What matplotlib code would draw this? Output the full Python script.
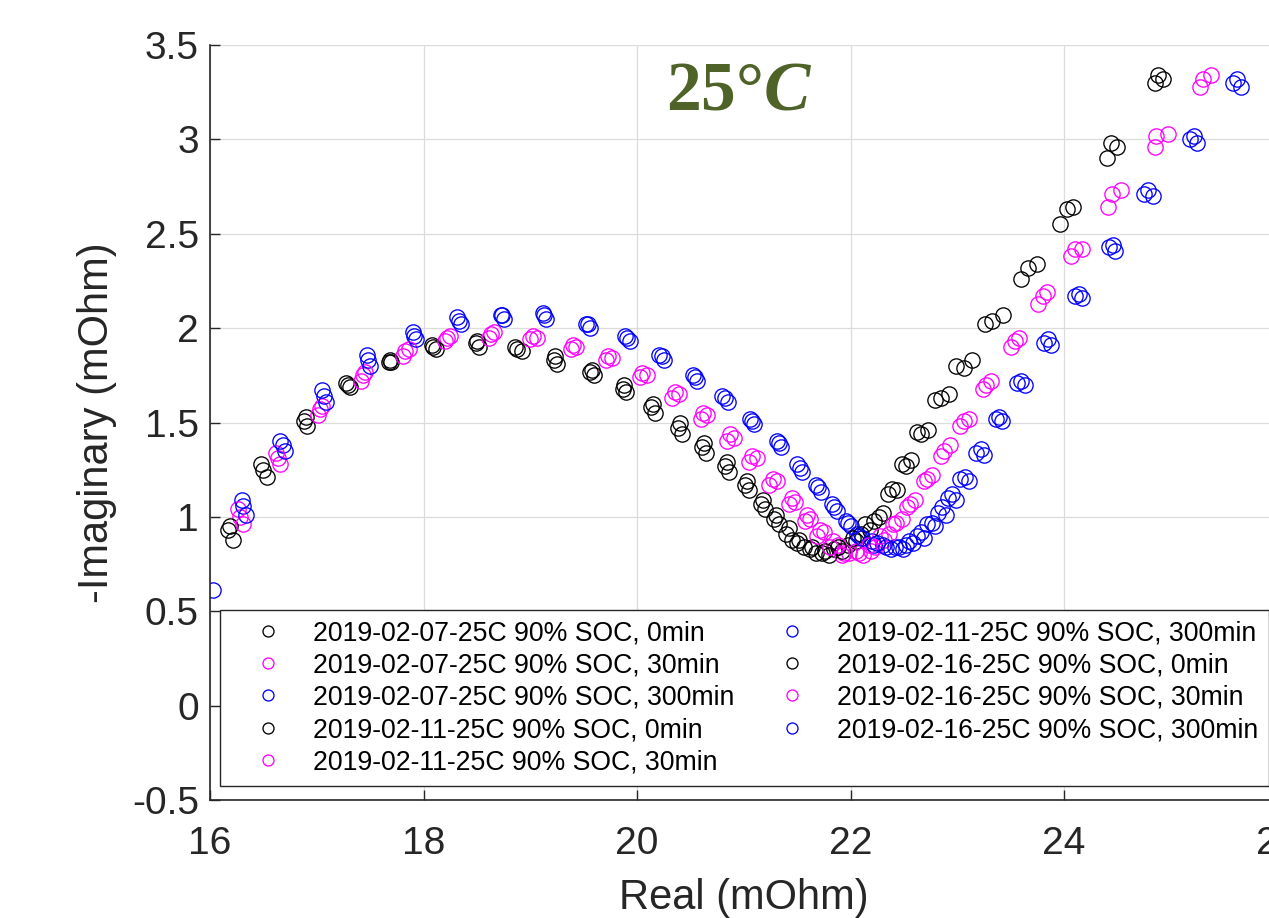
from __future__ import annotations

import matplotlib

matplotlib.use("Agg")
import matplotlib.pyplot as plt


OUTPUT_PATH = "out.png"

# real / -imaginary parts (mOhm)
RE_0207_0 = [16.17, 16.50, 16.88, 17.29, 17.68, 18.09, 18.49, 18.88, 19.22, 19.56, 19.87, 20.13,
             20.38, 20.61, 20.82, 21.01, 21.16, 21.28, 21.40, 21.50, 21.62, 21.73, 21.85, 21.98,
             22.10, 22.22, 22.35, 22.48, 22.62, 22.79, 22.99, 23.26, 23.60, 23.96, 24.40, 24.85]
IM_0207_0 = [0.93, 1.25, 1.51, 1.70, 1.82, 1.90, 1.92, 1.89, 1.83, 1.77, 1.68, 1.58,
             1.47, 1.37, 1.27, 1.17, 1.07, 0.99, 0.91, 0.86, 0.83, 0.81, 0.83, 0.85,
             0.91, 0.98, 1.12, 1.28, 1.45, 1.62, 1.80, 2.02, 2.26, 2.55, 2.90, 3.30]

RE_0207_30 = [16.28, 16.64, 17.03, 17.43, 17.83, 18.22, 18.63, 19.03, 19.40, 19.73, 20.05, 20.36,
              20.62, 20.87, 21.08, 21.27, 21.45, 21.59, 21.71, 21.84, 21.94, 22.08, 22.19, 22.31,
              22.43, 22.56, 22.72, 22.88, 23.06, 23.27, 23.54, 23.80, 24.10, 24.45, 24.86, 25.30]
IM_0207_30 = [1.00, 1.31, 1.57, 1.75, 1.88, 1.95, 1.97, 1.96, 1.91, 1.85, 1.76, 1.66,
              1.55, 1.44, 1.32, 1.20, 1.10, 1.01, 0.93, 0.87, 0.81, 0.81, 0.82, 0.88,
              0.97, 1.07, 1.20, 1.35, 1.51, 1.70, 1.93, 2.17, 2.42, 2.71, 3.02, 3.32]

RE_0207_300 = [16.03, 16.31, 16.68, 17.07, 17.48, 17.91, 18.33, 18.74, 19.13, 19.54, 19.91, 20.23,
               20.54, 20.82, 21.08, 21.33, 21.53, 21.70, 21.85, 21.98, 22.06, 22.20, 22.30, 22.42,
               22.52, 22.62, 22.72, 22.82, 22.91, 23.03, 23.18, 23.36, 23.56, 23.81, 24.10, 24.42,
               24.75, 25.18, 25.58]
IM_0207_300 = [0.61, 1.06, 1.38, 1.64, 1.83, 1.96, 2.04, 2.07, 2.07, 2.02, 1.95, 1.85,
               1.74, 1.63, 1.51, 1.39, 1.26, 1.16, 1.05, 0.97, 0.91, 0.87, 0.85, 0.84,
               0.85, 0.90, 0.96, 1.02, 1.10, 1.20, 1.34, 1.52, 1.71, 1.92, 2.17, 2.43,
               2.71, 3.00, 3.30]

RE_0211_0 = [16.22, 16.53, 16.91, 17.31, 17.70, 18.12, 18.52, 18.92, 19.25, 19.60, 19.90, 20.17,
             20.42, 20.65, 20.86, 21.05, 21.20, 21.33, 21.45, 21.56, 21.68, 21.80, 21.92, 22.05,
             22.18, 22.30, 22.44, 22.57, 22.73, 22.92, 23.14, 23.43, 23.75, 24.08, 24.50, 24.93]
IM_0211_0 = [0.88, 1.21, 1.48, 1.69, 1.82, 1.89, 1.90, 1.88, 1.81, 1.75, 1.66, 1.55,
             1.44, 1.34, 1.24, 1.14, 1.04, 0.96, 0.88, 0.84, 0.81, 0.80, 0.82, 0.87,
             0.93, 1.02, 1.14, 1.30, 1.46, 1.65, 1.83, 2.07, 2.34, 2.64, 2.96, 3.32]

RE_0211_30 = [16.26, 16.62, 17.05, 17.45, 17.86, 18.25, 18.66, 19.06, 19.43, 19.77, 20.09, 20.39,
              20.66, 20.91, 21.12, 21.31, 21.48, 21.62, 21.75, 21.88, 21.99, 22.12, 22.23, 22.36,
              22.48, 22.60, 22.76, 22.93, 23.11, 23.32, 23.58, 23.84, 24.17, 24.53, 24.97, 25.38]
IM_0211_30 = [1.04, 1.34, 1.59, 1.77, 1.89, 1.96, 1.98, 1.95, 1.90, 1.84, 1.75, 1.65,
              1.54, 1.42, 1.31, 1.19, 1.08, 0.99, 0.92, 0.85, 0.81, 0.80, 0.84, 0.91,
              0.99, 1.09, 1.22, 1.38, 1.52, 1.72, 1.95, 2.19, 2.42, 2.73, 3.03, 3.34]

RE_0211_300 = [16.30, 16.66, 17.05, 17.47, 17.90, 18.31, 18.73, 19.12, 19.52, 19.89, 20.21, 20.52,
               20.80, 21.06, 21.31, 21.50, 21.68, 21.83, 21.96, 22.08, 22.22, 22.33, 22.45, 22.55,
               22.66, 22.76, 22.86, 22.95, 23.07, 23.22, 23.39, 23.60, 23.85, 24.14, 24.46, 24.79,
               25.22, 25.62]
IM_0211_300 = [1.09, 1.40, 1.67, 1.86, 1.98, 2.06, 2.07, 2.08, 2.02, 1.96, 1.86, 1.75,
               1.64, 1.52, 1.40, 1.28, 1.17, 1.07, 0.98, 0.90, 0.85, 0.84, 0.84, 0.87,
               0.92, 0.97, 1.05, 1.12, 1.21, 1.36, 1.53, 1.72, 1.94, 2.18, 2.44, 2.73,
               3.02, 3.32]

RE_0216_0 = [16.19, 16.48, 16.90, 17.27, 17.69, 18.08, 18.50, 18.86, 19.23, 19.58, 19.88, 20.15,
             20.40, 20.63, 20.84, 21.03, 21.18, 21.30, 21.42, 21.52, 21.64, 21.76, 21.88, 22.02,
             22.14, 22.27, 22.39, 22.52, 22.66, 22.85, 23.06, 23.33, 23.66, 24.03, 24.44, 24.88]
IM_0216_0 = [0.95, 1.28, 1.53, 1.71, 1.83, 1.91, 1.93, 1.90, 1.85, 1.78, 1.70, 1.60,
             1.50, 1.39, 1.29, 1.19, 1.09, 1.01, 0.94, 0.88, 0.84, 0.82, 0.84, 0.89,
             0.96, 1.00, 1.15, 1.27, 1.44, 1.63, 1.79, 2.04, 2.32, 2.63, 2.98, 3.34]

RE_0216_30 = [16.31, 16.66, 17.01, 17.41, 17.81, 18.20, 18.61, 19.00, 19.38, 19.71, 20.03, 20.33,
              20.60, 20.84, 21.05, 21.24, 21.42, 21.57, 21.69, 21.81, 21.92, 22.05, 22.17, 22.28,
              22.40, 22.53, 22.69, 22.85, 23.03, 23.24, 23.50, 23.76, 24.07, 24.41, 24.85, 25.27]
IM_0216_30 = [0.96, 1.28, 1.54, 1.72, 1.85, 1.93, 1.95, 1.94, 1.89, 1.83, 1.74, 1.63,
              1.52, 1.40, 1.29, 1.17, 1.07, 0.98, 0.90, 0.84, 0.80, 0.82, 0.85, 0.90,
              0.96, 1.05, 1.19, 1.32, 1.48, 1.68, 1.90, 2.13, 2.38, 2.64, 2.96, 3.28]

RE_0216_300 = [16.34, 16.70, 17.09, 17.50, 17.93, 18.35, 18.75, 19.15, 19.56, 19.93, 20.25, 20.56,
               20.85, 21.10, 21.35, 21.55, 21.72, 21.87, 22.00, 22.11, 22.25, 22.38, 22.49, 22.59,
               22.69, 22.79, 22.89, 22.99, 23.11, 23.25, 23.42, 23.63, 23.88, 24.17, 24.48, 24.83,
               25.25, 25.66]
IM_0216_300 = [1.01, 1.35, 1.61, 1.80, 1.94, 2.02, 2.05, 2.05, 2.00, 1.93, 1.83, 1.72,
               1.61, 1.49, 1.37, 1.24, 1.13, 1.03, 0.95, 0.89, 0.86, 0.83, 0.83, 0.86,
               0.89, 0.95, 1.01, 1.09, 1.19, 1.33, 1.51, 1.70, 1.91, 2.16, 2.41, 2.70,
               2.98, 3.28]

SERIES = [
    ("2019-02-07-25C 90% SOC, 0min", RE_0207_0, IM_0207_0, "black"),
    ("2019-02-07-25C 90% SOC, 30min", RE_0207_30, IM_0207_30, "#ff00ff"),
    ("2019-02-07-25C 90% SOC, 300min", RE_0207_300, IM_0207_300, "#0000ff"),
    ("2019-02-11-25C 90% SOC, 0min", RE_0211_0, IM_0211_0, "black"),
    ("2019-02-11-25C 90% SOC, 30min", RE_0211_30, IM_0211_30, "#ff00ff"),
    ("2019-02-11-25C 90% SOC, 300min", RE_0211_300, IM_0211_300, "#0000ff"),
    ("2019-02-16-25C 90% SOC, 0min", RE_0216_0, IM_0216_0, "black"),
    ("2019-02-16-25C 90% SOC, 30min", RE_0216_30, IM_0216_30, "#ff00ff"),
    ("2019-02-16-25C 90% SOC, 300min", RE_0216_300, IM_0216_300, "#0000ff"),
]

X_TICKS = [16, 18, 20, 22, 24, 26]
Y_TICKS = [-0.5, 0, 0.5, 1, 1.5, 2, 2.5, 3, 3.5]
Y_TICK_LABELS = ["-0.5", "0", "0.5", "1", "1.5", "2", "2.5", "3", "3.5"]

AXIS_COLOR = "#262626"


def main() -> None:
    plt.rcParams["font.family"] = ["Liberation Sans", "DejaVu Sans"]
    plt.rcParams["mathtext.fontset"] = "custom"
    plt.rcParams["mathtext.rm"] = "Liberation Serif:bold"
    plt.rcParams["mathtext.it"] = "Liberation Serif:bold:italic"

    fig = plt.figure(figsize=(12.69, 9.18), dpi=100)
    ax = fig.add_axes([210 / 1269, 1 - 800 / 918, 1067.5 / 1269, 755 / 918])

    for label, re, im, color in SERIES:
        ax.plot(re, im, linestyle="none", marker="o", markersize=11,
                markerfacecolor="none", markeredgecolor=color,
                markeredgewidth=0.95, label=label)

    ax.set_xlim(16, 26)
    ax.set_ylim(-0.5, 3.5)
    ax.set_xticks(X_TICKS)
    ax.set_yticks(Y_TICKS)
    ax.set_yticklabels(Y_TICK_LABELS)
    ax.tick_params(direction="in", length=7, width=1, colors=AXIS_COLOR,
                   labelsize=28)
    ax.tick_params(axis="y", pad=8)
    ax.tick_params(axis="x", pad=19)
    ax.grid(True, color="#dcdcdc", linewidth=0.9)
    ax.set_axisbelow(True)
    for side in ["top", "right"]:
        ax.spines[side].set_visible(False)
    for side in ["left", "bottom"]:
        ax.spines[side].set_color(AXIS_COLOR)
        ax.spines[side].set_linewidth(1.2)

    ax.set_xlabel("Real (mOhm)", fontsize=30, color=AXIS_COLOR, labelpad=11)
    ax.set_ylabel("-Imaginary (mOhm)", fontsize=30, color=AXIS_COLOR, labelpad=11)

    ax.text(0.4955, 0.939, r"$\mathrm{25°}C$", transform=ax.transAxes,
            ha="center", va="center", fontsize=50, color="#4F6228")

    legend = ax.legend(ncol=2, loc="lower left", bbox_to_anchor=(0.0094, 0.0185),
                       fontsize=19.2, markerscale=0.72, handlelength=2.8,
                       handletextpad=0.3, columnspacing=0.74, labelspacing=0.235,
                       borderpad=0.4, borderaxespad=0, fancybox=False,
                       framealpha=1, edgecolor=AXIS_COLOR)
    legend.get_frame().set_linewidth(1.0)

    fig.savefig(OUTPUT_PATH, dpi=100)
    plt.close(fig)


if __name__ == "__main__":
    main()
